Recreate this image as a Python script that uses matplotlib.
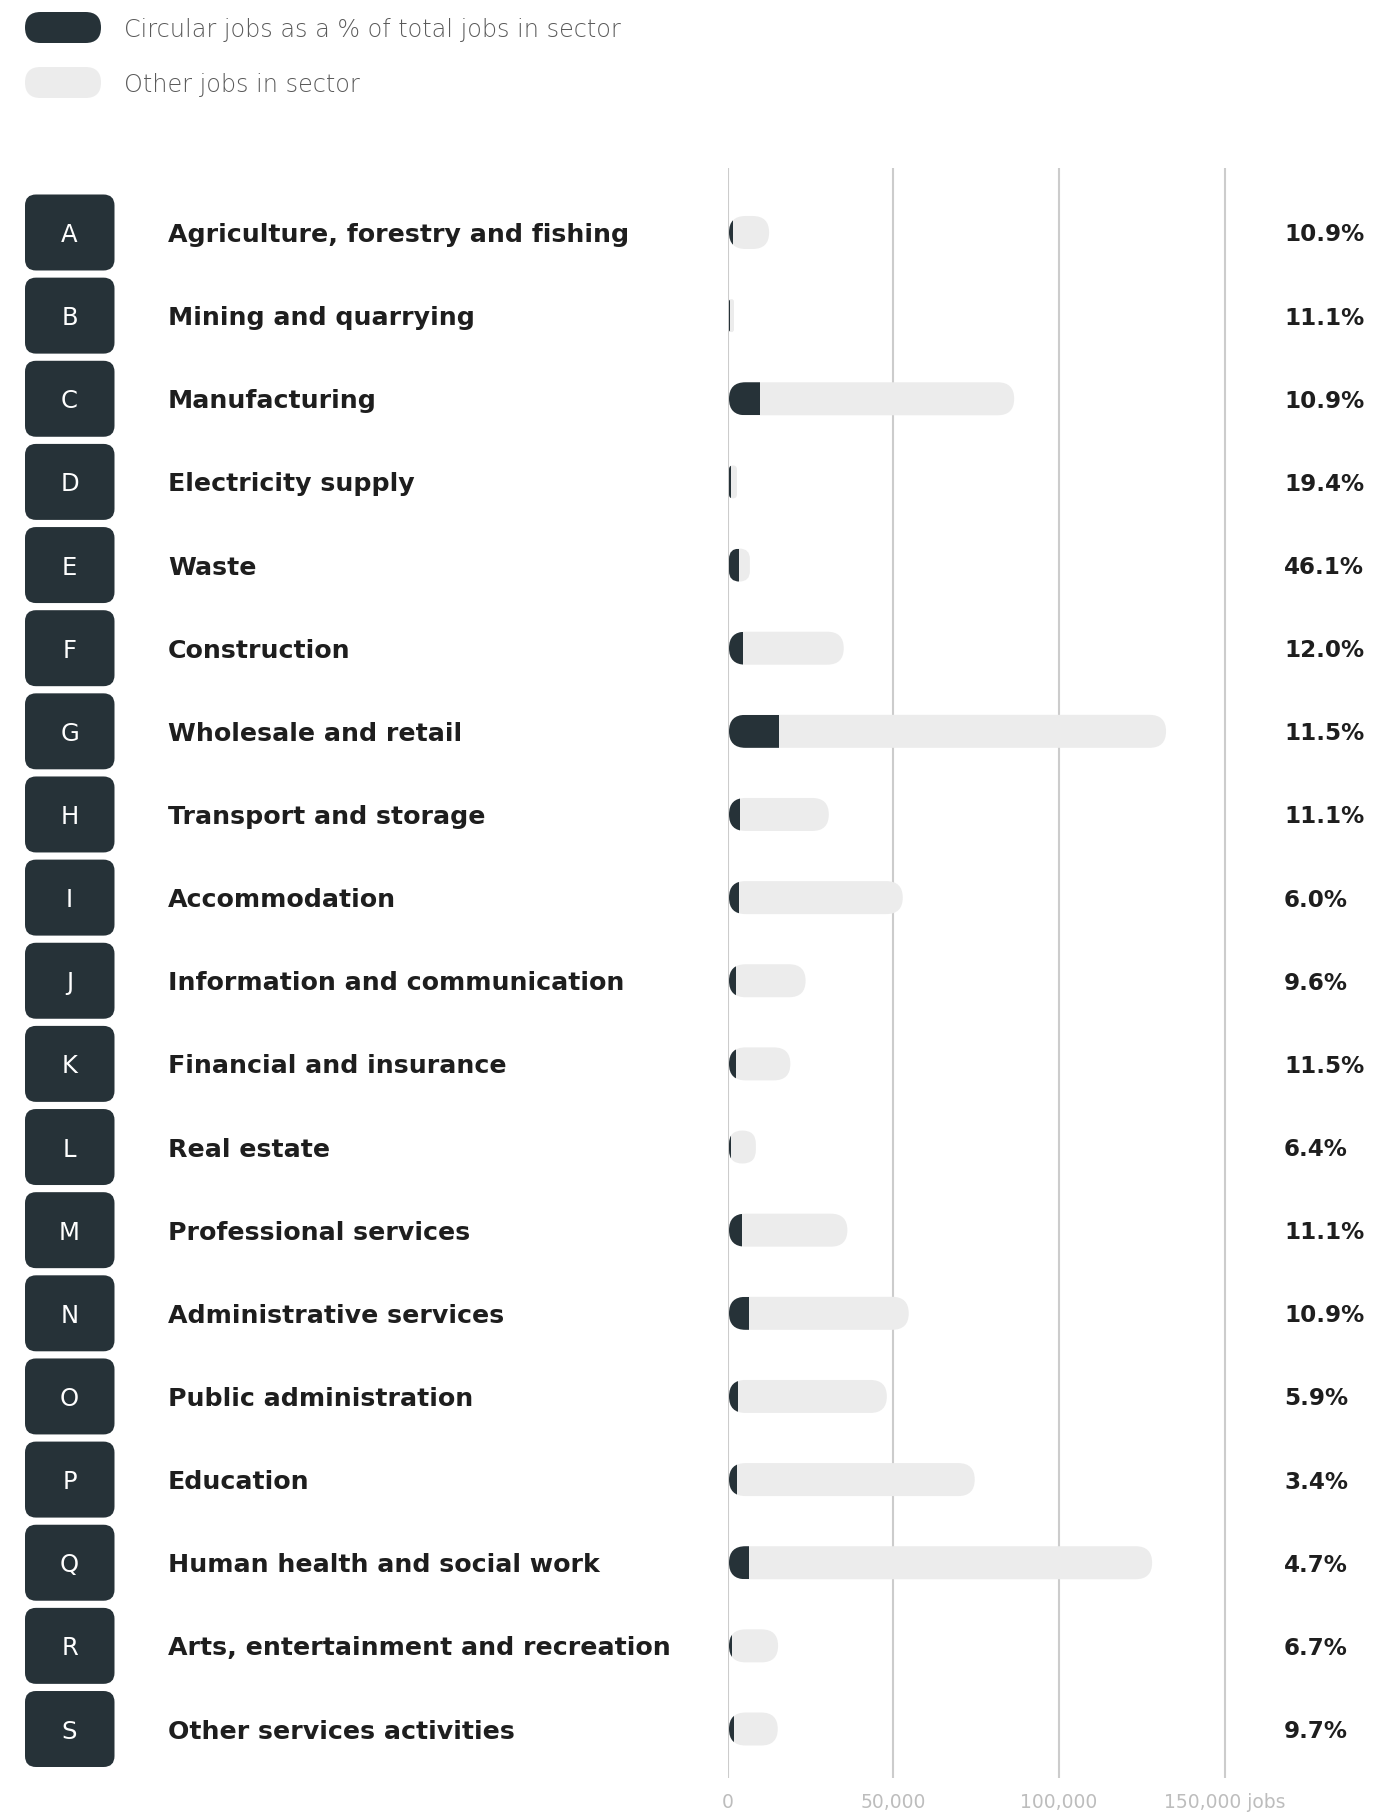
import matplotlib
matplotlib.use("Agg")
import matplotlib.pyplot as plt
from matplotlib.patches import FancyBboxPatch

# sector data
codes = list("ABCDEFGHIJKLMNOPQRS")
sectors = [
    "Agriculture, forestry and fishing", "Mining and quarrying", "Manufacturing",
    "Electricity supply", "Waste", "Construction", "Wholesale and retail",
    "Transport and storage", "Accommodation", "Information and communication",
    "Financial and insurance", "Real estate", "Professional services",
    "Administrative services", "Public administration", "Education",
    "Human health and social work", "Arts, entertainment and recreation",
    "Other services activities",
]
total_jobs = [12100, 1500, 86000, 2400, 6300, 34600, 131800, 30100, 52400, 23100,
              18500, 8100, 35700, 54200, 47600, 74100, 127600, 14800, 14700]
circular_pct = [10.9, 11.1, 10.9, 19.4, 46.1, 12.0, 11.5, 11.1, 6.0, 9.6,
                11.5, 6.4, 11.1, 10.9, 5.9, 3.4, 4.7, 6.7, 9.7]
tick_vals = [0, 50000, 100000, 150000]
tick_labels = ["0", "50,000", "100,000", "150,000 jobs"]

DARK = "#263238"
LIGHT = "#ececec"
GRID = "#cccccc"

W, H = 1396, 1814
fig = plt.figure(figsize=(W / 100, H / 100), dpi=100)

# layout in pixels
row_px = 83.15
top_px, bot_px = 168, 1778
y_top = -(232.5 - top_px) / row_px
y_bot = 18 + (bot_px - 1729) / row_px
px_per_job = 165.8 / 50000
xmax = 170000
ax_rect_y = (1 - bot_px / H, (bot_px - top_px) / H)

# left side: letters, labels, percentages
axl = fig.add_axes([0, ax_rect_y[0], 1, ax_rect_y[1]])
axl.set_xlim(0, W)
axl.set_ylim(y_bot, y_top)
axl.axis("off")

for i, (c, name, pct) in enumerate(zip(codes, sectors, circular_pct)):
    bh = 76 / row_px
    axl.add_patch(FancyBboxPatch((25, i - bh / 2), 89.5, bh,
                                 boxstyle="round,pad=0,rounding_size=11",
                                 mutation_aspect=1 / row_px,
                                 fc=DARK, ec="none"))
    axl.text(69.5, i, c, ha="center", va="center_baseline", color="white",
             fontsize=17.5)
    axl.text(168, i, name, ha="left", va="center_baseline", color="#1e1e1e",
             fontsize=18.2, fontweight="bold")
    axl.text(1284, i, f"{pct:.1f}%", ha="left", va="center_baseline", color="#1e1e1e",
             fontsize=16.6, fontweight="bold")

# bars
ax = fig.add_axes([727.5 / W, ax_rect_y[0], xmax * px_per_job / W, ax_rect_y[1]])
ax.set_xlim(0, xmax)
ax.set_ylim(y_bot, y_top)
ax.patch.set_visible(False)
for s in ax.spines.values():
    s.set_visible(False)
for t in tick_vals:
    ax.axvline(t, color=GRID, lw=1.5, zorder=0)
ax.set_xticks(tick_vals, tick_labels)
ax.set_yticks([])
ax.tick_params(axis="x", length=0, pad=11, labelsize=13.5, labelcolor="#bdbdbd")

bar_h = 33 / row_px
rx = 16.5 / px_per_job
ry = bar_h / 2
x0 = 1.5 / px_per_job
for i, (tot, pct) in enumerate(zip(total_jobs, circular_pct)):
    r = min(rx, tot / 2)
    pill = FancyBboxPatch((x0, i - bar_h / 2), tot, bar_h,
                          boxstyle=f"round,pad=0,rounding_size={r}",
                          mutation_aspect=ry / rx, fc=LIGHT, ec="none", zorder=2)
    ax.add_patch(pill)
    bars = ax.barh(i, tot * pct / 100, height=bar_h, left=x0, color=DARK, zorder=3)
    for b in bars:
        b.set_clip_path(pill)

# legend
axg = fig.add_axes([0, 1 - 110 / H, 1, 110 / H])
axg.set_xlim(0, W)
axg.set_ylim(110, 0)
axg.axis("off")
for y0, col, lab in [(12, DARK, "Circular jobs as a % of total jobs in sector"),
                     (67, LIGHT, "Other jobs in sector")]:
    axg.add_patch(FancyBboxPatch((25, y0), 76, 31,
                                 boxstyle="round,pad=0,rounding_size=15.5",
                                 fc=col, ec="none"))
    axg.text(124, y0 + 15.5, lab, ha="left", va="center_baseline", color="#5a5a5a",
             fontsize=17.2, fontweight="light")

fig.savefig("out.png", dpi=100)
